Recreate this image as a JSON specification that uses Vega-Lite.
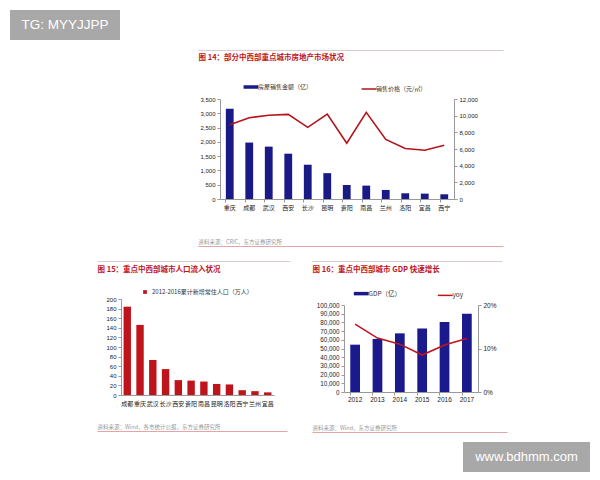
{
  "$schema": "https://vega.github.io/schema/vega-lite/v6.json",
  "background": "white",
  "padding": {"left": 10, "top": 10, "right": 10, "bottom": 10},
  "config": {
    "view": {"stroke": null},
    "font": "Noto Sans CJK SC",
    "axis": {"labelFont": "Liberation Sans", "labelFontSize": 6, "labelColor": "#222", "domainColor": "#999", "tickColor": "#999", "tickSize": 3, "labelPadding": 2, "grid": false},
    "legend": {"labelFont": "Noto Sans CJK SC", "labelFontSize": 6, "labelColor": "#333", "padding": 0, "layout": {"top": {"anchor": "middle"}}}
  },
  "datasets": {
    "housing": [
      {"city": "重庆", "amount": 3160, "price": 8900},
      {"city": "成都", "amount": 1975, "price": 9750},
      {"city": "武汉", "amount": 1833, "price": 10050},
      {"city": "西安", "amount": 1586, "price": 10150},
      {"city": "长沙", "amount": 1200, "price": 8600},
      {"city": "昆明", "amount": 905, "price": 10200},
      {"city": "贵阳", "amount": 494, "price": 6700},
      {"city": "南昌", "amount": 468, "price": 10400},
      {"city": "兰州", "amount": 317, "price": 7150},
      {"city": "洛阳", "amount": 200, "price": 6050},
      {"city": "宜昌", "amount": 188, "price": 5850},
      {"city": "西宁", "amount": 165, "price": 6450}
    ],
    "pop": [
      {"city": "成都", "value": 184},
      {"city": "重庆", "value": 146},
      {"city": "武汉", "value": 73},
      {"city": "长沙", "value": 54},
      {"city": "西安", "value": 31},
      {"city": "贵阳", "value": 30},
      {"city": "南昌", "value": 28},
      {"city": "昆明", "value": 23},
      {"city": "洛阳", "value": 22},
      {"city": "西宁", "value": 10},
      {"city": "兰州", "value": 8},
      {"city": "宜昌", "value": 5.5}
    ],
    "gdp": [
      {"year": "2012", "gdp": 54400, "yoy": 0.156},
      {"year": "2013", "gdp": 61000, "yoy": 0.124},
      {"year": "2014", "gdp": 67400, "yoy": 0.110},
      {"year": "2015", "gdp": 73000, "yoy": 0.085},
      {"year": "2016", "gdp": 80500, "yoy": 0.108},
      {"year": "2017", "gdp": 90000, "yoy": 0.123}
    ]
  },
  "spacing": 9,
  "resolve": {"scale": {"color": "independent", "x": "independent", "y": "independent"}, "legend": {"color": "independent"}},
  "vconcat": [
    {
      "width": 110, "height": 30,
      "view": {"fill": "#a8a8a8", "stroke": null},
      "data": {"values": [{"t": "TG: MYYJJPP"}]},
      "mark": {"type": "text", "font": "Liberation Sans", "fontSize": 13.5, "color": "#ffffff", "align": "center", "baseline": "middle"},
      "encoding": {
        "text": {"field": "t"},
        "x": {"datum": 0.5, "type": "quantitative", "scale": {"domain": [0, 1]}, "axis": null},
        "y": {"datum": 0.5, "type": "quantitative", "scale": {"domain": [0, 1]}, "axis": null}
      }
    },
    {
      "spacing": 0,
      "resolve": {"scale": {"color": "independent"}, "legend": {"color": "independent"}},
      "hconcat": [
        {"width": 188, "height": 1, "data": {"values": []}, "mark": "point", "encoding": {}},
        {
          "spacing": 23,
          "resolve": {"scale": {"color": "independent"}, "legend": {"color": "independent"}},
          "vconcat": [
            {
              "width": 305, "height": 1,
              "data": {"values": [{"v": 0}]},
              "mark": {"type": "point", "opacity": 0, "size": 0, "strokeWidth": 0},
              "encoding": {"x": {"field": "v", "type": "quantitative", "scale": {"domain": [0, 1]},
                "axis": {"orient": "bottom", "domainColor": "#d9cccc", "domainWidth": 1.2, "ticks": false, "labels": false,
                  "title": "图 14：部分中西部重点城市房地产市场状况", "titleAnchor": "start", "titleAlign": "left", "titleFont": "Noto Sans CJK SC", "titleFontSize": 7.5, "titleFontWeight": "bold", "titleColor": "#c0141c", "titlePadding": 3}}}
            },
            {
              "spacing": 29,
              "resolve": {"scale": {"color": "independent"}, "legend": {"color": "independent"}},
              "vconcat": [
                {
                  "spacing": 0,
                  "resolve": {"scale": {"color": "independent"}, "legend": {"color": "independent"}},
                  "hconcat": [
                    {"width": 1, "height": 1, "data": {"values": []}, "mark": "point", "encoding": {}},
                    {
                      "width": 234, "height": 100,
                      "data": {"name": "housing"},
                      "encoding": {"x": {"field": "city", "type": "nominal", "sort": null, "scale": {"paddingInner": 0.6, "paddingOuter": 0.3},
                        "axis": {"title": null, "labelAngle": 0, "labelFont": "Noto Sans CJK SC", "labelFontSize": 6, "labelPadding": 2, "bandPosition": 0, "tickSize": 3}}},
                      "layer": [
                        {
                          "mark": {"type": "bar"},
                          "encoding": {
                            "y": {"field": "amount", "type": "quantitative", "scale": {"domain": [0, 3500]}, "axis": {"title": null, "values": [0, 500, 1000, 1500, 2000, 2500, 3000, 3500], "format": ",d"}},
                            "color": {"datum": "房屋销售金额（亿）", "type": "nominal",
                              "scale": {"domain": ["房屋销售金额（亿）", "销售价格（元/㎡）"], "range": ["#1a1a86", "#b3141b"]},
                              "legend": {"orient": "top", "direction": "horizontal", "title": null, "symbolType": "stroke", "symbolSize": 220,
                                "symbolStrokeWidth": {"expr": "datum.value === '房屋销售金额（亿）' ? 3.5 : 1.5"},
                                "symbolStrokeColor": {"expr": "datum.value === '房屋销售金额（亿）' ? '#1a1a86' : '#b3141b'"},
                                "columnPadding": 45, "offset": 5, "labelFontSize": 6}}
                          }
                        },
                        {
                          "mark": {"type": "line", "strokeWidth": 1.6},
                          "encoding": {
                            "y": {"field": "price", "type": "quantitative", "scale": {"domain": [0, 12000]}, "axis": {"orient": "right", "title": null, "values": [0, 2000, 4000, 6000, 8000, 10000, 12000], "format": ",d"}},
                            "color": {"datum": "销售价格（元/㎡）", "type": "nominal"}
                          }
                        }
                      ],
                      "resolve": {"scale": {"y": "independent"}}
                    }
                  ]
                },
                {
                  "width": 305, "height": 5,
                  "data": {"values": [{"v": 0}]},
                  "mark": {"type": "point", "opacity": 0, "size": 0, "strokeWidth": 0},
                  "encoding": {"x": {"field": "v", "type": "quantitative", "scale": {"domain": [0, 1]},
                    "axis": {"orient": "top", "domainColor": "#e3a5a5", "domainWidth": 1.2, "ticks": false, "labels": false,
                      "title": "资料来源：CRIC，东方证券研究所", "titleAnchor": "start", "titleAlign": "left", "titleFont": "Noto Sans CJK SC", "titleFontSize": 5.5, "titleFontWeight": "normal", "titleColor": "#999999", "titlePadding": 2}}}
                }
              ]
            }
          ]
        }
      ]
    },
    {
      "spacing": 22,
      "resolve": {"scale": {"color": "independent"}, "legend": {"color": "independent"}},
      "hconcat": [
        {"width": 65, "height": 1, "data": {"values": []}, "mark": "point", "encoding": {}},
        {
          "spacing": 16,
          "resolve": {"scale": {"color": "independent"}, "legend": {"color": "independent"}},
          "vconcat": [
            {
              "width": 193, "height": 1,
              "data": {"values": [{"v": 0}]},
              "mark": {"type": "point", "opacity": 0, "size": 0, "strokeWidth": 0},
              "encoding": {"x": {"field": "v", "type": "quantitative", "scale": {"domain": [0, 1]},
                "axis": {"orient": "bottom", "domainColor": "#d9cccc", "domainWidth": 1.2, "ticks": false, "labels": false,
                  "title": "图 15：重点中西部城市人口流入状况", "titleAnchor": "start", "titleAlign": "left", "titleFont": "Noto Sans CJK SC", "titleFontSize": 7.5, "titleFontWeight": "bold", "titleColor": "#c0141c", "titlePadding": 4}}}
            },
            {
              "spacing": 18,
              "resolve": {"scale": {"color": "independent"}, "legend": {"color": "independent"}},
              "vconcat": [
                {
                  "spacing": 0,
                  "resolve": {"scale": {"color": "independent"}, "legend": {"color": "independent"}},
                  "hconcat": [
                    {"width": 8, "height": 1, "data": {"values": []}, "mark": "point", "encoding": {}},
                    {
                      "width": 153, "height": 96,
                      "data": {"name": "pop"},
                      "mark": {"type": "bar"},
                      "encoding": {
                        "x": {"field": "city", "type": "nominal", "sort": null, "scale": {"paddingInner": 0.42, "paddingOuter": 0.2},
                          "axis": {"title": null, "labelAngle": 0, "labelFont": "Noto Sans CJK SC", "labelFontSize": 6, "ticks": false, "labelPadding": 5}},
                        "y": {"field": "value", "type": "quantitative", "scale": {"domain": [0, 200]}, "axis": {"title": null, "values": [0, 20, 40, 60, 80, 100, 120, 140, 160, 180, 200]}},
                        "color": {"datum": "2012-2016累计新增常住人口（万人）", "type": "nominal", "scale": {"domain": ["2012-2016累计新增常住人口（万人）"], "range": ["#c0141c"]},
                          "legend": {"orient": "top", "title": null, "symbolType": "square", "symbolSize": 14, "offset": 4, "labelFontSize": 6}}
                      }
                    }
                  ]
                },
                {
                  "width": 190, "height": 1,
                  "data": {"values": [{"v": 0}]},
                  "mark": {"type": "point", "opacity": 0, "size": 0, "strokeWidth": 0},
                  "encoding": {"x": {"field": "v", "type": "quantitative", "scale": {"domain": [0, 1]},
                    "axis": {"orient": "top", "domainColor": "#e3a5a5", "domainWidth": 1.2, "ticks": false, "labels": false,
                      "title": "资料来源：Wind，各市统计公报，东方证券研究所", "titleAnchor": "start", "titleAlign": "left", "titleFont": "Noto Sans CJK SC", "titleFontSize": 5.5, "titleFontWeight": "normal", "titleColor": "#999999", "titlePadding": 2}}}
                }
              ]
            }
          ]
        },
        {
          "spacing": 17,
          "resolve": {"scale": {"color": "independent"}, "legend": {"color": "independent"}},
          "vconcat": [
            {
              "width": 190, "height": 1,
              "data": {"values": [{"v": 0}]},
              "mark": {"type": "point", "opacity": 0, "size": 0, "strokeWidth": 0},
              "encoding": {"x": {"field": "v", "type": "quantitative", "scale": {"domain": [0, 1]},
                "axis": {"orient": "bottom", "domainColor": "#d9cccc", "domainWidth": 1.2, "ticks": false, "labels": false,
                  "title": "图 16：重点中西部城市 GDP 快速增长", "titleAnchor": "start", "titleAlign": "left", "titleFont": "Noto Sans CJK SC", "titleFontSize": 7.5, "titleFontWeight": "bold", "titleColor": "#c0141c", "titlePadding": 4}}}
            },
            {
              "spacing": 22,
              "resolve": {"scale": {"color": "independent"}, "legend": {"color": "independent"}},
              "vconcat": [
                {
                  "spacing": 0,
                  "resolve": {"scale": {"color": "independent"}, "legend": {"color": "independent"}},
                  "hconcat": [
                    {"width": 4, "height": 1, "data": {"values": []}, "mark": "point", "encoding": {}},
                    {
                      "width": 134, "height": 87,
                      "data": {"name": "gdp"},
                      "encoding": {"x": {"field": "year", "type": "nominal", "sort": null, "scale": {"paddingInner": 0.565, "paddingOuter": 0.28},
                        "axis": {"title": null, "labelAngle": 0, "labelFontSize": 6.5, "labelPadding": 1, "bandPosition": 0, "tickSize": 3}}},
                      "layer": [
                        {
                          "mark": {"type": "bar"},
                          "encoding": {
                            "y": {"field": "gdp", "type": "quantitative", "scale": {"domain": [0, 100000]}, "axis": {"title": null, "values": [0, 10000, 20000, 30000, 40000, 50000, 60000, 70000, 80000, 90000, 100000], "format": ",d", "labelFontSize": 6.3}},
                            "color": {"datum": "GDP（亿）", "type": "nominal",
                              "scale": {"domain": ["GDP（亿）", "yoy"], "range": ["#1a1a8c", "#c0141c"]},
                              "legend": {"orient": "top", "direction": "horizontal", "title": null, "symbolType": "stroke", "symbolSize": 220,
                                "symbolStrokeWidth": {"expr": "datum.value === 'GDP（亿）' ? 3.5 : 1.5"},
                                "symbolStrokeColor": {"expr": "datum.value === 'GDP（亿）' ? '#1a1a8c' : '#c0141c'"},
                                "columnPadding": 32, "offset": 4, "labelFontSize": 6.5}}
                          }
                        },
                        {
                          "mark": {"type": "line", "strokeWidth": 1.6},
                          "encoding": {
                            "y": {"field": "yoy", "type": "quantitative", "scale": {"domain": [0, 0.2]}, "axis": {"orient": "right", "title": null, "values": [0, 0.1, 0.2], "format": ".0%", "labelFontSize": 6.5}},
                            "color": {"datum": "yoy", "type": "nominal"}
                          }
                        }
                      ],
                      "resolve": {"scale": {"y": "independent"}}
                    }
                  ]
                },
                {
                  "width": 195, "height": 1,
                  "data": {"values": [{"v": 0}]},
                  "mark": {"type": "point", "opacity": 0, "size": 0, "strokeWidth": 0},
                  "encoding": {"x": {"field": "v", "type": "quantitative", "scale": {"domain": [0, 1]},
                    "axis": {"orient": "top", "domainColor": "#e3a5a5", "domainWidth": 1.2, "ticks": false, "labels": false,
                      "title": "资料来源：Wind，东方证券研究所", "titleAnchor": "start", "titleAlign": "left", "titleFont": "Noto Sans CJK SC", "titleFontSize": 5.5, "titleFontWeight": "normal", "titleColor": "#999999", "titlePadding": 2}}}
                }
              ]
            }
          ]
        }
      ]
    },
    {
      "spacing": 0,
      "hconcat": [
        {"width": 453, "height": 1, "data": {"values": []}, "mark": "point", "encoding": {}},
        {
          "width": 127, "height": 30,
          "view": {"fill": "#a8a8a8", "stroke": null},
          "data": {"values": [{"t": "www.bdhmm.com"}]},
          "mark": {"type": "text", "font": "Liberation Sans", "fontSize": 13, "color": "#ffffff", "align": "center", "baseline": "middle"},
          "encoding": {
            "text": {"field": "t"},
            "x": {"datum": 0.5, "type": "quantitative", "scale": {"domain": [0, 1]}, "axis": null},
            "y": {"datum": 0.5, "type": "quantitative", "scale": {"domain": [0, 1]}, "axis": null}
          }
        }
      ]
    }
  ]
}
